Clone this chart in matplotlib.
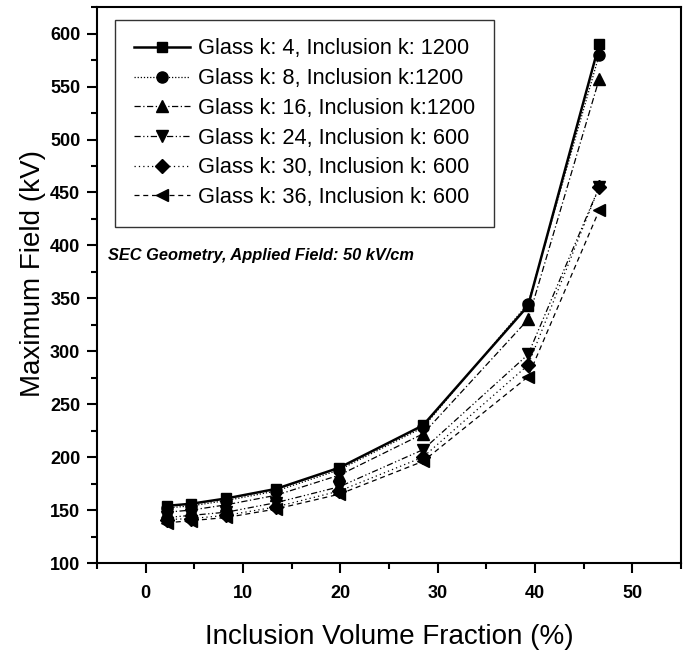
import matplotlib
matplotlib.use("Agg")
import matplotlib.pyplot as plt
from matplotlib.ticker import MultipleLocator

x_frac = [2.2, 4.7, 8.3, 13.4, 19.9, 28.5, 39.3, 46.6]
s_k4 = [154, 156, 161, 170, 190, 230, 343, 590]
s_k8 = [152, 154, 159, 168, 188, 228, 345, 580]
s_k16 = [148, 150, 155, 164, 183, 222, 330, 557]
s_k24 = [143, 145, 148, 157, 172, 207, 297, 455]
s_k30 = [141, 142, 145, 153, 168, 200, 287, 455]
s_k36 = [138, 140, 143, 151, 165, 196, 276, 433]
labels = ["Glass k: 4, Inclusion k: 1200",
          "Glass k: 8, Inclusion k:1200",
          "Glass k: 16, Inclusion k:1200",
          "Glass k: 24, Inclusion k: 600",
          "Glass k: 30, Inclusion k: 600",
          "Glass k: 36, Inclusion k: 600"]
series = [s_k4, s_k8, s_k16, s_k24, s_k30, s_k36]
markers = ["s", "o", "^", "v", "D", "<"]
styles = ["-", (0, (1, 1.5)), (0, (5, 2, 1, 2)), (0, (5, 2, 1, 2, 1, 2)), (0, (1, 2.5)), (0, (4, 3))]
widths = [1.8, 0.9, 0.9, 0.9, 0.9, 0.9]
msizes = [7, 8, 8.5, 8.5, 7.5, 8.5]

plt.rcParams['font.family'] = ["Liberation Sans", "DejaVu Sans"]

fig = plt.figure(figsize=(6.85, 6.52), dpi=100)
ax = fig.add_axes([0.1416, 0.1365, 0.994 - 0.1416, 0.989 - 0.1365])

for y, lab, m, ls, lw, ms in zip(series, labels, markers, styles, widths, msizes):
    ax.plot(x_frac, y, color="black", linestyle=ls, linewidth=lw, marker=m,
            markersize=ms, markerfacecolor="black", markeredgecolor="black", label=lab)

ax.set_xlim(-5, 55)
ax.set_ylim(100, 625)
ax.xaxis.set_major_locator(MultipleLocator(10))
ax.xaxis.set_minor_locator(MultipleLocator(5))
ax.yaxis.set_major_locator(MultipleLocator(50))
ax.yaxis.set_minor_locator(MultipleLocator(25))
ax.tick_params(which="both", direction="out", width=1.5, bottom=True, left=True)
ax.tick_params(which="major", length=7)
ax.tick_params(which="minor", length=4)
for sp in ax.spines.values():
    sp.set_linewidth(1.5)

for t in ax.get_xticklabels() + ax.get_yticklabels():
    t.set_fontweight("bold")
    t.set_fontsize(13)
ax.tick_params(axis="x", pad=9)
ax.tick_params(axis="y", pad=5)

ax.set_xlabel("Inclusion Volume Fraction (%)", fontsize=20, labelpad=16)
ax.set_ylabel("Maximum Field (kV)", fontsize=20)
ax.yaxis.set_label_coords(-0.088, 0.52)

leg = ax.legend(loc="upper left", bbox_to_anchor=(0.031, 0.977), fontsize=15.7,
                frameon=True, fancybox=False, edgecolor="black", handlelength=2.6,
                labelspacing=0.4, borderpad=0.85, handletextpad=0.35,
                borderaxespad=0)
leg.get_frame().set_linewidth(1.0)

ax.text(0.018, 0.554, "SEC Geometry, Applied Field: 50 kV/cm", transform=ax.transAxes,
        fontsize=11.8, fontweight="bold", fontstyle="italic", ha="left", va="center")

fig.savefig("out.png", dpi=100)
